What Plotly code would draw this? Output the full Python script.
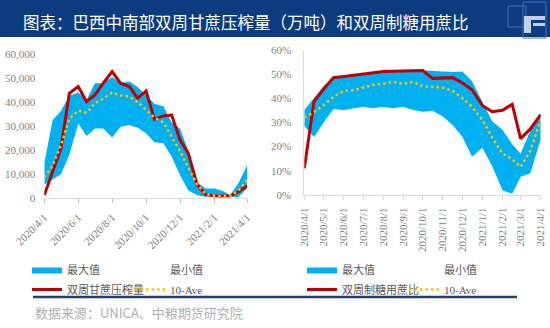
import plotly.graph_objects as go

W, H = 550, 328

dates = ["2020-04-01", "2020-04-16", "2020-05-01", "2020-05-16", "2020-06-01", "2020-06-16",
         "2020-07-01", "2020-07-16", "2020-08-01", "2020-08-16", "2020-09-01", "2020-09-16",
         "2020-10-01", "2020-10-16", "2020-11-01", "2020-11-16", "2020-12-01", "2020-12-16",
         "2021-01-01", "2021-01-16", "2021-02-01", "2021-02-16", "2021-03-01", "2021-03-16",
         "2021-04-01"]

# Left chart: bi-weekly cane crush (10k t)
crush = [1100, 11000, 20700, 43700, 46500, 40200, 43000, 47900, 52800, 47900, 46500, 41600, 44700,
         32800, 34200, 34600, 24200, 18600, 5300, 1400, 700, 700, 700, 2500, 5000]
crush_ave = [8500, 13500, 22000, 33000, 36500, 35500, 39500, 41500, 44000, 42800, 42300, 40000, 36700,
             33500, 31500, 25500, 19500, 12500, 5500, 1500, 800, 700, 700, 3000, 7500]
crush_max = [14400, 32500, 36300, 42700, 44000, 41000, 47900, 47900, 50500, 48000, 48600, 46200, 43000,
             39300, 38300, 31500, 29000, 19500, 6500, 3900, 3900, 2800, 1000, 6000, 13700]
crush_min = [5500, 7500, 9800, 18000, 31000, 25800, 29000, 29000, 25200, 29700, 30400, 29300, 27000,
             23200, 22800, 17200, 9500, 3000, 1000, 400, 300, 300, 300, 300, 4000]

# Right chart: bi-weekly sugar mix (%)
ratio = [11.0, 38.6, 43.8, 48.5, 49.0, 49.5, 50.0, 50.5, 51.0, 51.1, 51.2, 51.3, 51.4,
         48.2, 48.5, 48.5, 46.3, 43.5, 37.0, 34.4, 35.0, 37.5, 23.3, 27.3, 33.2]
ratio_ave = [32.0, 34.3, 37.2, 40.6, 43.0, 43.3, 44.4, 45.5, 46.0, 46.8, 45.9, 46.8, 44.9,
             44.7, 44.4, 43.0, 40.0, 36.5, 31.0, 23.8, 17.1, 14.8, 11.6, 18.3, 31.0]
ratio_max = [35.1, 40.3, 45.0, 48.2, 48.9, 49.6, 50.2, 50.7, 51.0, 51.4, 51.7, 51.8, 51.5,
             51.1, 51.0, 50.8, 51.0, 47.0, 38.5, 30.5, 27.0, 21.0, 17.0, 26.5, 33.8]
ratio_min = [28.5, 24.0, 30.0, 35.5, 35.1, 35.8, 36.5, 35.8, 36.5, 35.8, 36.5, 35.1, 34.4,
             34.8, 32.4, 28.9, 24.1, 15.8, 19.5, 12.0, 2.0, 0.5, 7.5, 9.0, 23.0]

left_tickvals = ["2020-04-01", "2020-06-01", "2020-08-01", "2020-10-01", "2020-12-01", "2021-02-01", "2021-04-01"]
left_ticktext = ["2020/4/1", "2020/6/1", "2020/8/1", "2020/10/1", "2020/12/1", "2021/2/1", "2021/4/1"]
right_tickvals = ["2020-04-01", "2020-05-01", "2020-06-01", "2020-07-01", "2020-08-01", "2020-09-01",
                  "2020-10-01", "2020-11-01", "2020-12-01", "2021-01-01", "2021-02-01", "2021-03-01", "2021-04-01"]
right_ticktext = ["2020/4/1", "2020/5/1", "2020/6/1", "2020/7/1", "2020/8/1", "2020/9/1", "2020/10/1",
                  "2020/11/1", "2020/12/1", "2021/1/1", "2021/2/1", "2021/3/1", "2021/4/1"]
left_yticks = [0, 10000, 20000, 30000, 40000, 50000, 60000]
left_ytext = ["0", "10,000", "20,000", "30,000", "40,000", "50,000", "60,000"]
right_yticks = [0, 10, 20, 30, 40, 50, 60]
right_ytext = ["0%", "10%", "20%", "30%", "40%", "50%", "60%"]

title = "图表：巴西中南部双周甘蔗压榨量（万吨）和双周制糖用蔗比"
source = "数据来源：UNICA、中粮期货研究院"

BLUE_FILL = "#00b0f0"
RED = "#c00000"
YEL = "#ffc000"
TICK_FONT = dict(family="Liberation Serif, Noto Sans CJK SC", size=11, color="#808080")
LEG_FONT = dict(family="Liberation Serif, Noto Sans CJK SC", size=11, color="#595959")


def px(x):
    return x / W


def py(y):
    return 1 - y / H


fig = go.Figure()

# left chart
fig.add_trace(go.Scatter(x=dates, y=crush_min, name="最小值", mode="lines",
                         line=dict(width=0, color="rgba(0,0,0,0)"),
                         xaxis="x", yaxis="y", legend="legend2", hoverinfo="skip"))
fig.add_trace(go.Scatter(x=dates, y=crush_max, name="最大值", mode="lines", line=dict(width=0, color=BLUE_FILL),
                         fill="tonexty", fillcolor=BLUE_FILL, xaxis="x", yaxis="y", legend="legend"))
fig.add_trace(go.Scatter(x=dates, y=crush, name="双周甘蔗压榨量", mode="lines", line=dict(width=3, color=RED),
                         xaxis="x", yaxis="y", legend="legend3"))
fig.add_trace(go.Scatter(x=dates, y=crush_ave, name="10-Ave", mode="lines",
                         line=dict(width=2.5, color=YEL, dash="2.5px,3px"),
                         xaxis="x", yaxis="y", legend="legend4"))

# right chart
fig.add_trace(go.Scatter(x=dates, y=ratio_min, name="最小值", mode="lines",
                         line=dict(width=0, color="rgba(0,0,0,0)"),
                         xaxis="x2", yaxis="y2", legend="legend6", hoverinfo="skip"))
fig.add_trace(go.Scatter(x=dates, y=ratio_max, name="最大值", mode="lines", line=dict(width=0, color=BLUE_FILL),
                         fill="tonexty", fillcolor=BLUE_FILL, xaxis="x2", yaxis="y2", legend="legend5"))
fig.add_trace(go.Scatter(x=dates, y=ratio, name="双周制糖用蔗比", mode="lines", line=dict(width=3, color=RED),
                         xaxis="x2", yaxis="y2", legend="legend7"))
fig.add_trace(go.Scatter(x=dates, y=ratio_ave, name="10-Ave", mode="lines",
                         line=dict(width=2.5, color=YEL, dash="2.5px,3px"),
                         xaxis="x2", yaxis="y2", legend="legend8"))

common_x = dict(type="date", range=["2020-04-01", "2021-04-01"], showgrid=False, zeroline=False,
                showline=True, linewidth=1, ticks="outside", ticklen=4, tickwidth=1,
                tickfont=TICK_FONT, tickmode="array", automargin=False)
common_y = dict(showgrid=False, zeroline=False, ticks="", tickfont=TICK_FONT, tickmode="array",
                automargin=False)


def leg(x, y):
    return dict(x=px(x), y=py(y), xanchor="left", yanchor="top", orientation="h",
                font=LEG_FONT, bgcolor="rgba(0,0,0,0)", borderwidth=0, itemwidth=30)


ROW1, ROW2 = 255, 275

fig.update_layout(
    width=W, height=H, margin=dict(l=0, r=0, t=0, b=0, autoexpand=False),
    paper_bgcolor="white", plot_bgcolor="white",
    xaxis=dict(common_x, domain=[px(44.3), px(247.3)], anchor="y",
               tickvals=left_tickvals, ticktext=left_ticktext, tickangle=-45,
               linecolor="#d9d9d9", tickcolor="#bfbfbf", ticklabelstandoff=4),
    yaxis=dict(common_y, domain=[py(197.7), py(54.3)], anchor="x", range=[0, 60000],
               tickvals=left_yticks, ticktext=left_ytext, showline=False, ticklabelstandoff=8),
    xaxis2=dict(common_x, domain=[px(304.3), px(540.7)], anchor="y2",
                tickvals=right_tickvals, ticktext=right_ticktext, tickangle=-90,
                linecolor="#d9d9d9", tickcolor="#d9d9d9", ticklabelstandoff=3),
    yaxis2=dict(common_y, domain=[py(195), py(49.8)], anchor="x2", range=[0, 60],
                tickvals=right_yticks, ticktext=right_ytext, showline=True, linecolor="#c9def2",
                linewidth=1, ticklabelstandoff=10),
    legend=leg(27, ROW1),
    legend2=leg(130, ROW1),
    legend3=leg(27, ROW2),
    legend4=leg(130, ROW2),
    legend5=leg(302, ROW1),
    legend6=leg(404, ROW1),
    legend7=leg(302, ROW2),
    legend8=leg(404, ROW2),
    showlegend=True,
)

# title bar
fig.add_shape(type="rect", xref="paper", yref="paper", x0=0, x1=1, y0=py(37), y1=1,
              fillcolor="#0d3b80", line=dict(width=0), layer="below")
fig.add_annotation(text=title, xref="paper", yref="paper", x=px(246), y=py(22),
                   xanchor="center", yanchor="middle", showarrow=False,
                   font=dict(family="Noto Sans CJK SC", size=16.5, color="white"))
# logo
fig.add_shape(type="rect", xref="paper", yref="paper", x0=px(508), x1=px(526), y0=py(27), y1=py(6),
              line=dict(color="#4f73b3", width=1), fillcolor="rgba(0,0,0,0)")
fig.add_shape(type="rect", xref="paper", yref="paper", x0=px(523), x1=px(546), y0=py(38), y1=py(2),
              line=dict(color="#4f73b3", width=1), fillcolor="rgba(0,0,0,0)")
fig.add_shape(type="path", xref="paper", yref="paper",
              path=f"M {px(524)},{py(33)} L {px(524)},{py(16)} L {px(545)},{py(16)} L {px(545)},{py(20)} "
                   f"L {px(531)},{py(20)} L {px(531)},{py(33)} Z",
              fillcolor="#c3d0e6", line=dict(width=0))
fig.add_shape(type="rect", xref="paper", yref="paper", x0=px(533), x1=px(545), y0=py(26), y1=py(23),
              fillcolor="#c3d0e6", line=dict(width=0))

# separator line
fig.add_shape(type="line", xref="paper", yref="paper", x0=px(33), x1=px(517), y0=py(297), y1=py(297),
              line=dict(color="#203f7a", width=2.5))
# source
fig.add_annotation(text=source, xref="paper", yref="paper", x=px(33), y=py(312),
                   xanchor="left", yanchor="middle", showarrow=False,
                   font=dict(family="Noto Sans CJK SC", size=13, color="#b0b0b0"))

fig.write_html("out.html")
